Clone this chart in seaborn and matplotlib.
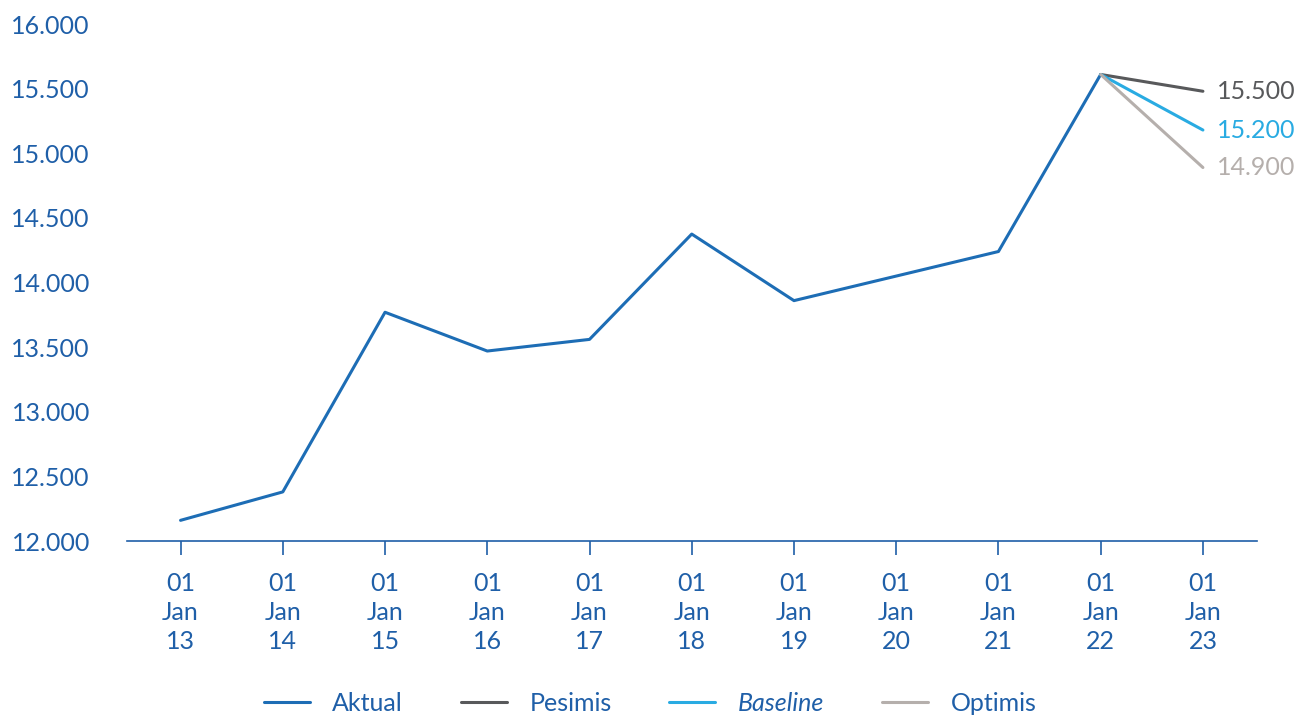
import matplotlib
matplotlib.use("Agg")
import matplotlib.pyplot as plt
import seaborn as sns
import pandas as pd

years = [2013, 2014, 2015, 2016, 2017, 2018, 2019, 2020, 2021, 2022, 2023]
tick_labels = ["01\nJan\n13", "01\nJan\n14", "01\nJan\n15", "01\nJan\n16", "01\nJan\n17",
               "01\nJan\n18", "01\nJan\n19", "01\nJan\n20", "01\nJan\n21", "01\nJan\n22",
               "01\nJan\n23"]
aktual = [12160, 12380, 13770, 13470, 13560, 14375, 13860, 14050, 14240, 15610]
scen_years = [2022, 2023]
pesimis = [15610, 15480]
baseline = [15610, 15180]
optimis = [15610, 14890]
end_labels = ["15.500", "15.200", "14.900"]
yticks = [12000, 12500, 13000, 13500, 14000, 14500, 15000, 15500, 16000]
ytick_labels = ["12.000", "12.500", "13.000", "13.500", "14.000", "14.500", "15.000", "15.500", "16.000"]

C_AKT = "#1d6db5"
C_PES = "#58595b"
C_BAS = "#29abe2"
C_OPT = "#b5afac"
C_TXT = "#1f5fa8"
FS = 18

sns.set_theme(style="white")
plt.rcParams["font.family"] = ["Lato", "DejaVu Sans"]

fig = plt.figure(figsize=(13, 7.16), dpi=100)
ax = fig.add_axes([0.098, 0.2444, 0.869, 0.722])

df_a = pd.DataFrame({"x": years[:len(aktual)], "y": aktual})
sns.lineplot(data=df_a, x="x", y="y", ax=ax, color=C_AKT, lw=2.2, label="Aktual")
sns.lineplot(x=scen_years, y=pesimis, ax=ax, color=C_PES, lw=2.2, label="Pesimis")
sns.lineplot(x=scen_years, y=baseline, ax=ax, color=C_BAS, lw=2.2, label="Baseline")
sns.lineplot(x=scen_years, y=optimis, ax=ax, color=C_OPT, lw=2.2, label="Optimis")

for val, lab, col in zip([pesimis[-1], baseline[-1], optimis[-1]], end_labels, [C_PES, C_BAS, C_OPT]):
    ax.annotate(lab, xy=(scen_years[-1], val), xytext=(10, 0), textcoords="offset points",
                ha="left", va="center", color=col, fontsize=FS)

ax.set_xlim(years[0] - 0.52, years[-1] + 0.53)
ax.set_ylim(12000, 16000)
ax.set_xticks(years)
ax.set_xticklabels(tick_labels, fontsize=FS, color=C_TXT, linespacing=1.33)
ax.set_yticks(yticks)
ax.set_yticklabels(ytick_labels, fontsize=FS, color=C_TXT)
ax.set_xlabel("")
ax.set_ylabel("")
for s in ["left", "right", "top"]:
    ax.spines[s].set_visible(False)
ax.spines["bottom"].set_color(C_TXT)
ax.spines["bottom"].set_linewidth(1.2)
ax.tick_params(axis="x", which="major", bottom=True, length=10, width=1.2, color=C_TXT, pad=12, direction="out")
ax.tick_params(axis="y", left=False, pad=21)

leg = ax.legend(loc="lower center", bbox_to_anchor=(0.5 - (0.098 + 0.869/2 - 0.5)/0.869, -0.38),
                ncol=4, frameon=False, fontsize=FS, handlelength=1.85, columnspacing=2.3,
                handletextpad=0.9)
for t in leg.get_texts():
    t.set_color(C_TXT)
    if t.get_text() == "Baseline":
        t.set_style("italic")

fig.savefig("out.png", dpi=100)
